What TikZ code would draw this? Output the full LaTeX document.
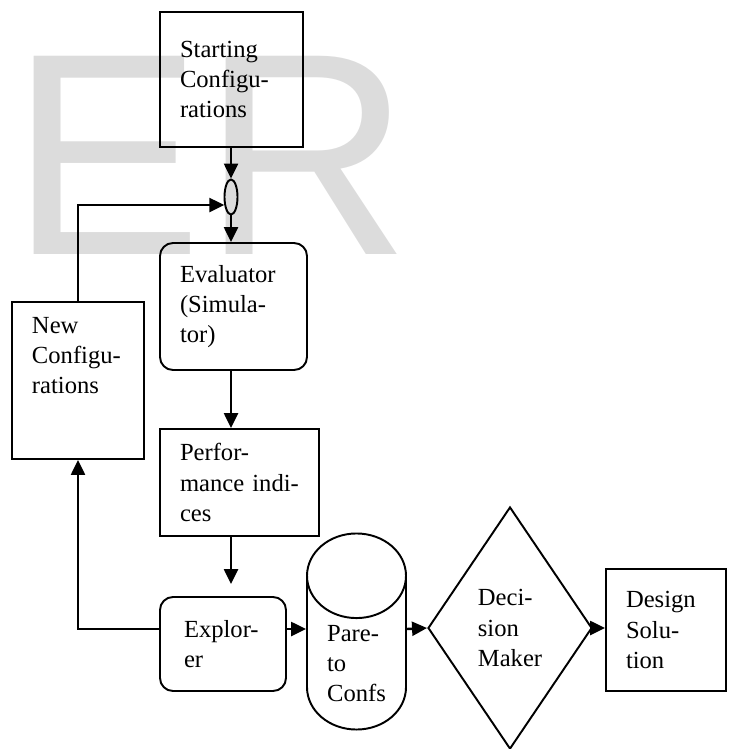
\documentclass[tikz,border=0pt]{standalone}
\usepackage{fontspec}
\setmainfont{Liberation Serif}
\newfontfamily\markfont{Liberation Sans}
\usetikzlibrary{arrows.meta,shapes.geometric}
\definecolor{markgray}{HTML}{DCDCDC}

\begin{document}
\begin{tikzpicture}[
  x=0.2mm, y=-0.2mm,
  font=\fontsize{14}{17.1}\selectfont,
  >={Triangle[length=3mm,width=2.8mm]},
  block/.style={
    draw,
    line width=1.1pt,
    align=left,
    inner xsep=4mm,
    inner ysep=0pt
  },
  soft/.style={block, rounded corners=2.6mm},
  flow/.style={->, line width=1.4pt}
]
\useasboundingbox (0,0) rectangle (729,749);
% big lettering behind the chart
\node[anchor=base west, inner sep=0pt, text=markgray,
  font=\markfont\fontsize{164}{164}\selectfont] (mark) at (10,255) {ER};

\node[block, text width=20.6mm, minimum height=27mm] (start) at (231.5,79.5) {
  Starting\\Configu-\\rations
};
\node[draw, ellipse, line width=1.1pt, minimum width=2.6mm, minimum height=7mm,
  inner sep=0pt] (junc) at (231,197) {};
\node[soft, text width=21.4mm, minimum height=25.4mm] (eval) at (233.5,306.5) {
  Evaluator\\(Simula-\\tor)
};
\node[block, text width=18.4mm, minimum height=31.4mm, text depth=22mm] (newconf) at (78,380.5) {
  New\\Configu-\\rations
};
\node[block, text width=23.8mm, minimum height=21.4mm] (perf) at (239.5,482.5) {
  Perfor-\\mance indi-\\ces
};
\node[soft, inner xsep=4.8mm, text width=15.6mm, minimum height=18.8mm] (explorer) at (223,644) {
  Explor-\\er
};
\node[draw, cylinder, shape border rotate=90, aspect=1.2, line width=1.1pt,
  minimum width=19.8mm, minimum height=38.2mm, align=left,
  anchor=shape center] (pareto) at (356.5,631.5) {
  Pare-\\to\\Confs
};
\node[draw, diamond, aspect=0.68, line width=1.1pt, inner sep=0pt,
  minimum width=32.8mm, minimum height=48.4mm, align=left] (decision) at (510,628) {
  Deci-\\sion\\Maker
};
\node[block, text width=16mm, minimum height=24.4mm] (design) at (666,630) {
  Design\\Solu-\\tion
};

% connectors
\coordinate (row) at (0,629);
\draw[flow] (start.south -| junc) -- (junc.north);
\draw[flow] (junc.south) -- (eval.north -| junc);
\draw[flow] (eval.south -| junc) -- (perf.north -| junc);
\draw[flow, shorten >=2.4mm] (perf.south -| junc) -- (explorer.north -| junc);
\draw[flow] (explorer.west |- row) -| (newconf.south);
\draw[flow] (newconf.north) |- (junc.230);
\draw[flow] (explorer.east |- row) -- (pareto.west |- row);
\draw[flow] (pareto.east |- row) -- (decision.west);
\draw[flow] (decision.east) -- (decision.east -| design.west);
\end{tikzpicture}
\end{document}
